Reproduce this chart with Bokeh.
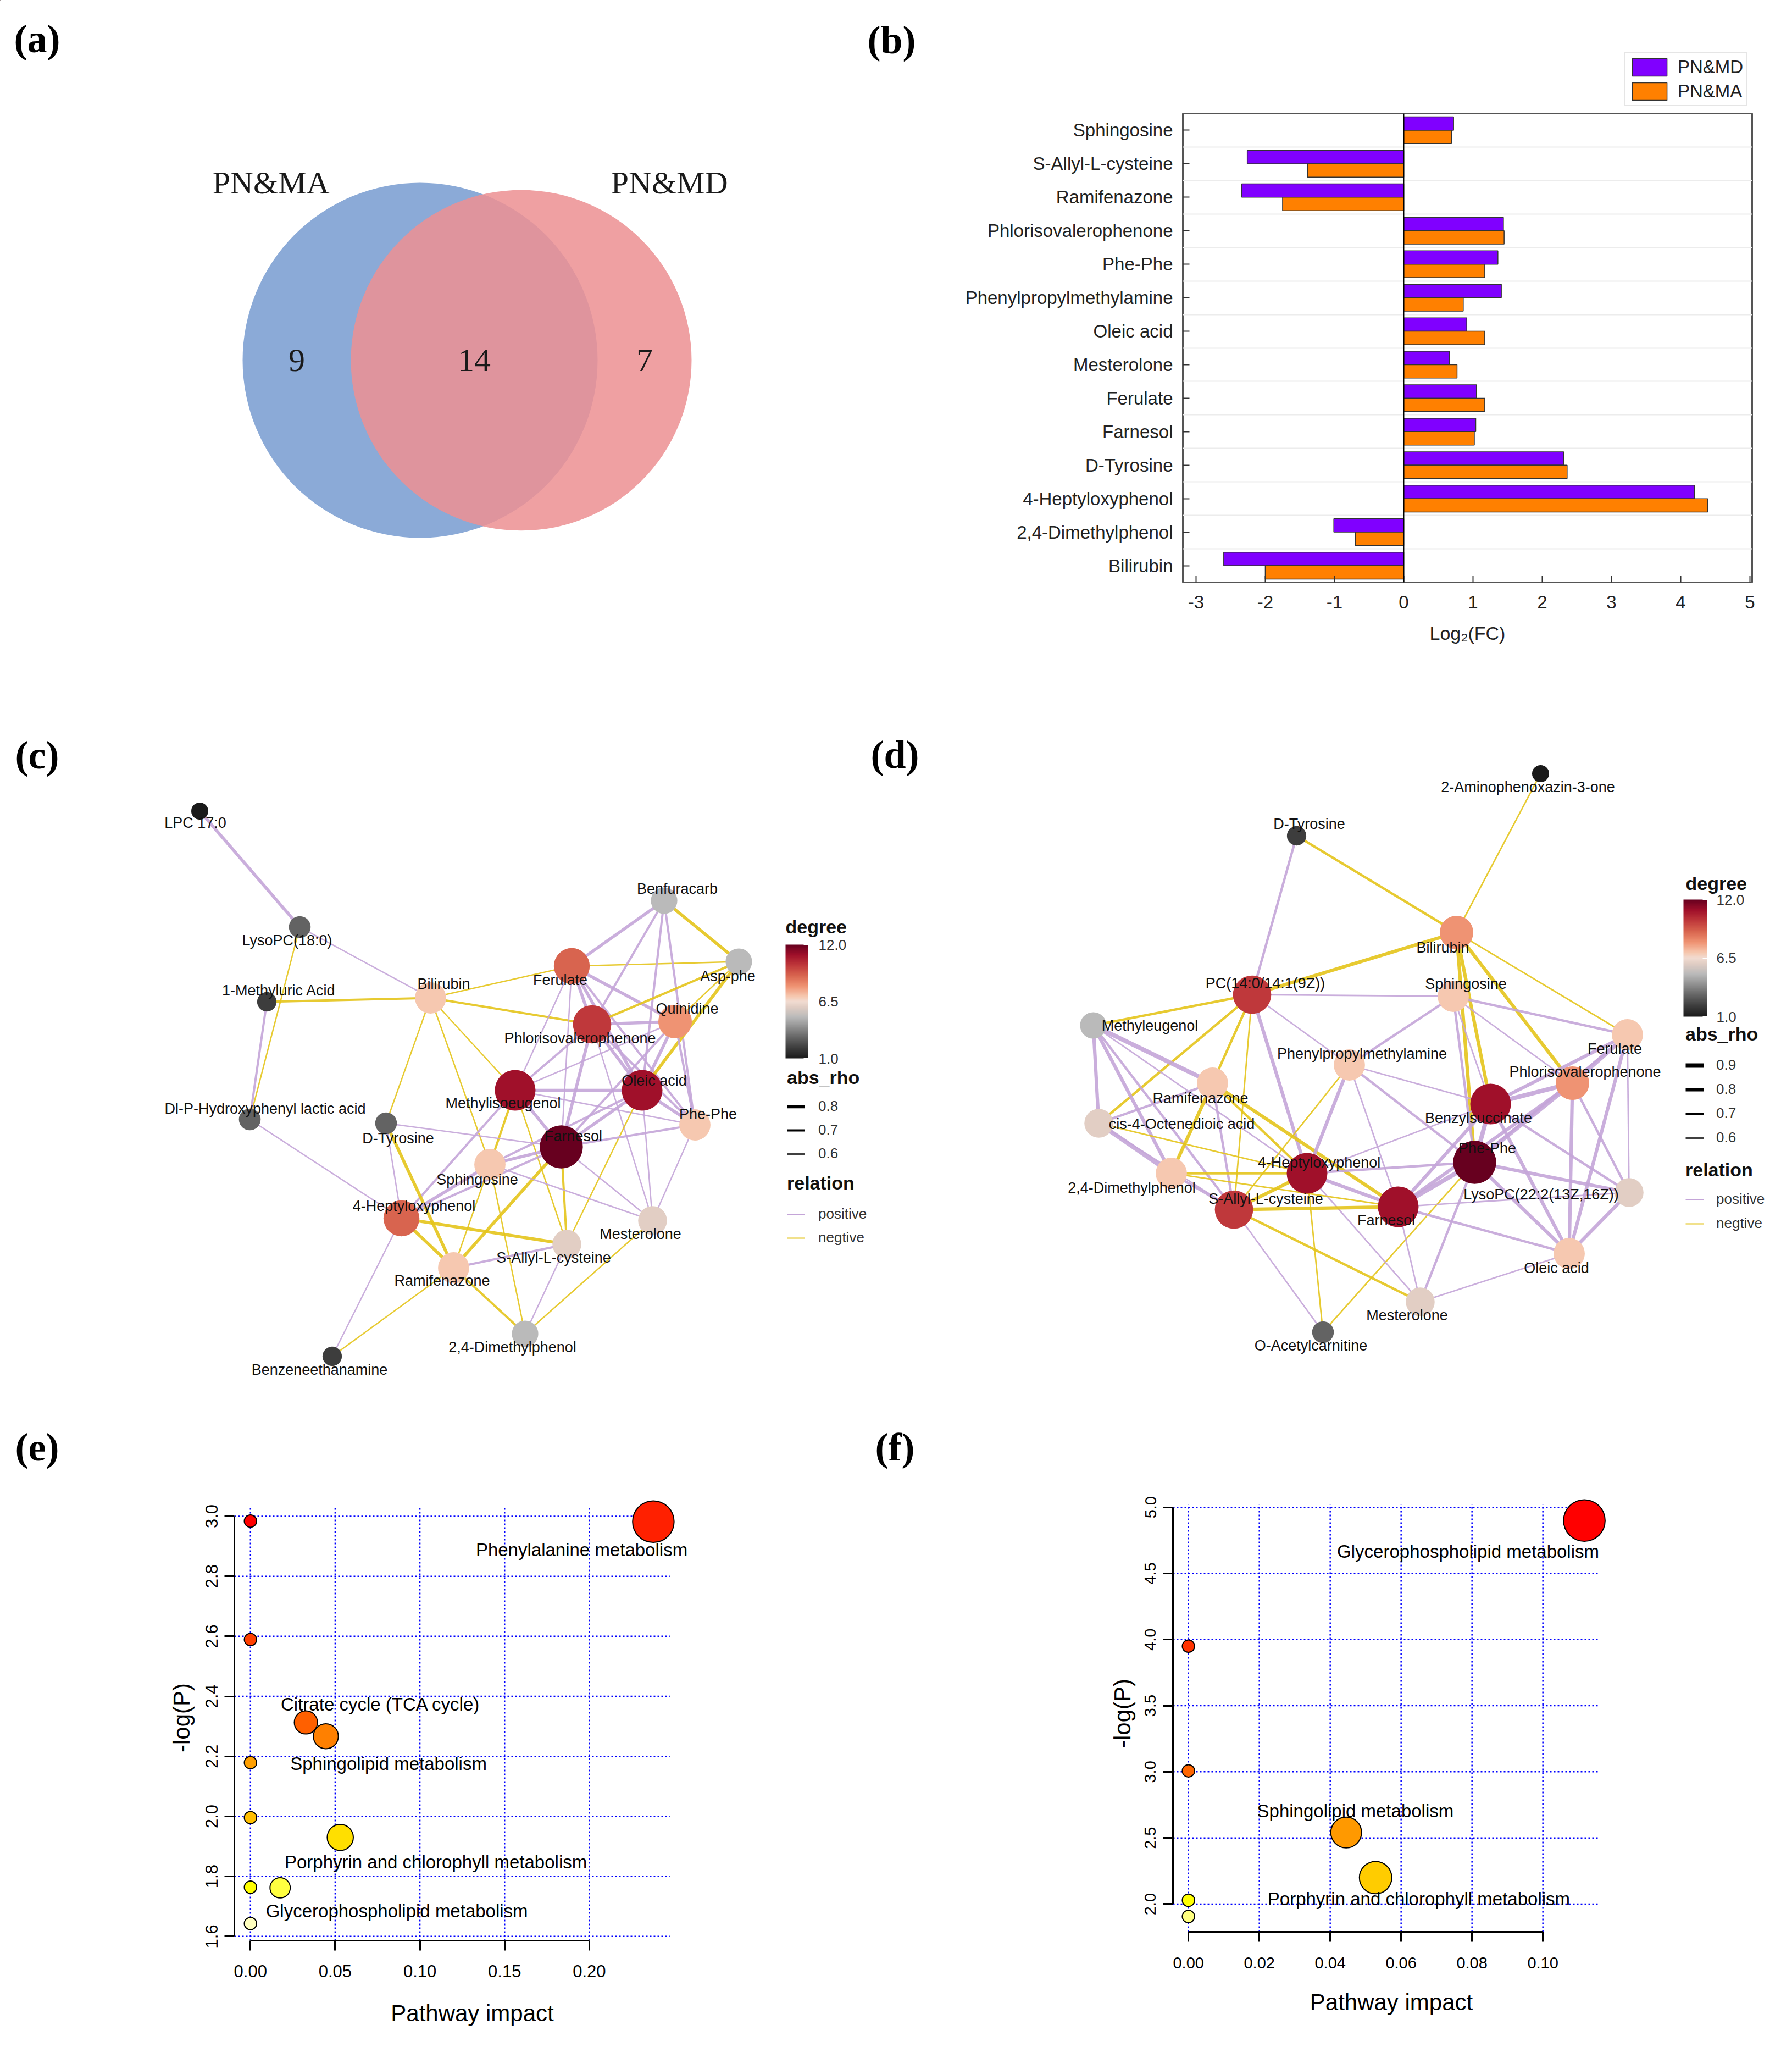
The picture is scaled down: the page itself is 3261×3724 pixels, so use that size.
import math
from bokeh.plotting import figure
from bokeh.models import (Range1d, FactorRange, ColumnDataSource, Label, Legend, LegendItem,
                          ColorBar, LinearColorMapper, FixedTicker, PrintfTickFormatter, Span)
from bokeh.layouts import row, column
from bokeh.embed import file_html
from bokeh.resources import INLINE
from bokeh.core.properties import value
from bokeh.transform import dodge

# ======================= DATA =======================
# (a) Venn diagram
venn_names = ["PN&MA", "PN&MD"]
venn_counts = [9, 14, 7]          # PN&MA only, shared, PN&MD only

# (b) log2 fold change
fc_metabolites = ["Sphingosine", "S-Allyl-L-cysteine", "Ramifenazone", "Phlorisovalerophenone",
                  "Phe-Phe", "Phenylpropylmethylamine", "Oleic acid", "Mesterolone", "Ferulate",
                  "Farnesol", "D-Tyrosine", "4-Heptyloxyphenol", "2,4-Dimethylphenol", "Bilirubin"]
fc_pn_md = [0.72, -2.26, -2.34, 1.44, 1.36, 1.41, 0.91, 0.66, 1.05, 1.04, 2.31, 4.20, -1.01, -2.60]
fc_pn_ma = [0.69, -1.39, -1.75, 1.45, 1.17, 0.86, 1.17, 0.77, 1.17, 1.02, 2.36, 4.39, -0.70, -2.00]
fc_series = ["PN&MD", "PN&MA"]
fc_ticks = [-3, -2, -1, 0, 1, 2, 3, 4, 5]

# (c) correlation network (PN&MA)
net_c_names = ["LPC 17:0", "LysoPC(18:0)", "1-Methyluric Acid", "Dl-P-Hydroxyphenyl lactic acid",
               "Bilirubin", "D-Tyrosine", "Ferulate", "Benfuracarb", "Asp-phe", "Quinidine",
               "Phlorisovalerophenone", "Methylisoeugenol", "Oleic acid", "Phe-Phe", "Farnesol",
               "Sphingosine", "4-Heptyloxyphenol", "Mesterolone", "S-Allyl-L-cysteine",
               "Ramifenazone", "2,4-Dimethylphenol", "Benzeneethanamine"]
net_c_x = [371, 553, 493, 462, 791, 710, 1048, 1216, 1352, 1236, 1085, 945, 1176, 1272, 1029,
           899, 738, 1195, 1039, 833, 963, 612]
net_c_y = [1483, 1694, 1830, 2044, 1823, 2051, 1765, 1646, 1757, 1866, 1871, 1991, 1991, 2054,
           2094, 2126, 2224, 2228, 2271, 2314, 2434, 2475]
net_c_label_x = [363, 530, 515, 490, 815, 732, 1027, 1240, 1332, 1258, 1063, 923, 1198, 1296,
                 1051, 876, 761, 1173, 1015, 812, 940, 589]
net_c_label_y = [1504, 1718, 1809, 2024, 1797, 2078, 1790, 1624, 1783, 1842, 1896, 2014, 1973,
                 2034, 2074, 2153, 2201, 2252, 2295, 2337, 2458, 2499]
net_c_degree = [1, 3, 2, 3, 7, 3, 9, 5, 5, 8, 10, 11, 11, 7, 12, 7, 9, 6, 6, 7, 5, 2]
net_c_edges = [
    ("LPC 17:0", "LysoPC(18:0)", "pos", 0.8),
    ("LysoPC(18:0)", "Bilirubin", "pos", 0.6),
    ("LysoPC(18:0)", "Dl-P-Hydroxyphenyl lactic acid", "neg", 0.6),
    ("1-Methyluric Acid", "Bilirubin", "neg", 0.7),
    ("1-Methyluric Acid", "Dl-P-Hydroxyphenyl lactic acid", "pos", 0.7),
    ("Dl-P-Hydroxyphenyl lactic acid", "4-Heptyloxyphenol", "pos", 0.6),
    ("Bilirubin", "Ferulate", "neg", 0.6),
    ("Bilirubin", "Phlorisovalerophenone", "neg", 0.7),
    ("Bilirubin", "Methylisoeugenol", "neg", 0.6),
    ("Bilirubin", "Sphingosine", "neg", 0.6),
    ("Bilirubin", "D-Tyrosine", "neg", 0.6),
    ("Ferulate", "Asp-phe", "neg", 0.6),
    ("Ferulate", "Benfuracarb", "pos", 0.8),
    ("Ferulate", "Phlorisovalerophenone", "pos", 0.8),
    ("Ferulate", "Quinidine", "pos", 0.8),
    ("Ferulate", "Oleic acid", "pos", 0.8),
    ("Ferulate", "Phe-Phe", "pos", 0.7),
    ("Ferulate", "Methylisoeugenol", "pos", 0.6),
    ("Ferulate", "Farnesol", "pos", 0.6),
    ("Benfuracarb", "Asp-phe", "neg", 0.8),
    ("Benfuracarb", "Phlorisovalerophenone", "pos", 0.7),
    ("Benfuracarb", "Oleic acid", "pos", 0.7),
    ("Benfuracarb", "Phe-Phe", "pos", 0.7),
    ("Asp-phe", "Phlorisovalerophenone", "neg", 0.7),
    ("Asp-phe", "Oleic acid", "neg", 0.8),
    ("Asp-phe", "Quinidine", "neg", 0.6),
    ("Quinidine", "Phlorisovalerophenone", "pos", 0.8),
    ("Quinidine", "Oleic acid", "pos", 0.8),
    ("Quinidine", "Phe-Phe", "pos", 0.7),
    ("Quinidine", "Farnesol", "pos", 0.7),
    ("Quinidine", "Methylisoeugenol", "pos", 0.6),
    ("Phlorisovalerophenone", "Methylisoeugenol", "pos", 0.7),
    ("Phlorisovalerophenone", "Oleic acid", "pos", 0.8),
    ("Phlorisovalerophenone", "Farnesol", "pos", 0.8),
    ("Phlorisovalerophenone", "Mesterolone", "pos", 0.6),
    ("Phlorisovalerophenone", "Phe-Phe", "pos", 0.7),
    ("Methylisoeugenol", "Oleic acid", "pos", 0.8),
    ("Methylisoeugenol", "Farnesol", "pos", 0.8),
    ("Methylisoeugenol", "Phe-Phe", "pos", 0.6),
    ("Methylisoeugenol", "4-Heptyloxyphenol", "pos", 0.7),
    ("Methylisoeugenol", "Sphingosine", "neg", 0.7),
    ("Methylisoeugenol", "S-Allyl-L-cysteine", "neg", 0.6),
    ("Oleic acid", "Farnesol", "pos", 0.8),
    ("Oleic acid", "Phe-Phe", "pos", 0.8),
    ("Oleic acid", "Sphingosine", "pos", 0.7),
    ("Oleic acid", "S-Allyl-L-cysteine", "neg", 0.6),
    ("Oleic acid", "Mesterolone", "pos", 0.6),
    ("Farnesol", "D-Tyrosine", "pos", 0.6),
    ("Farnesol", "Phe-Phe", "pos", 0.7),
    ("Farnesol", "Sphingosine", "pos", 0.8),
    ("Farnesol", "4-Heptyloxyphenol", "pos", 0.7),
    ("Farnesol", "Ramifenazone", "neg", 0.8),
    ("Farnesol", "S-Allyl-L-cysteine", "neg", 0.7),
    ("Farnesol", "Mesterolone", "pos", 0.6),
    ("D-Tyrosine", "4-Heptyloxyphenol", "pos", 0.6),
    ("D-Tyrosine", "Ramifenazone", "neg", 0.8),
    ("Sphingosine", "4-Heptyloxyphenol", "pos", 0.8),
    ("Sphingosine", "Mesterolone", "pos", 0.6),
    ("Sphingosine", "2,4-Dimethylphenol", "neg", 0.6),
    ("Sphingosine", "Ramifenazone", "neg", 0.6),
    ("4-Heptyloxyphenol", "S-Allyl-L-cysteine", "neg", 0.8),
    ("4-Heptyloxyphenol", "Ramifenazone", "neg", 0.8),
    ("4-Heptyloxyphenol", "Benzeneethanamine", "pos", 0.6),
    ("Ramifenazone", "S-Allyl-L-cysteine", "pos", 0.7),
    ("Ramifenazone", "2,4-Dimethylphenol", "neg", 0.7),
    ("Ramifenazone", "Benzeneethanamine", "neg", 0.6),
    ("S-Allyl-L-cysteine", "2,4-Dimethylphenol", "pos", 0.6),
    ("Mesterolone", "2,4-Dimethylphenol", "neg", 0.6),
    ("Phe-Phe", "Mesterolone", "pos", 0.6),
]
net_c_rho_levels = [0.8, 0.7, 0.6]

# (d) correlation network (PN&MD)
net_d_names = ["2-Aminophenoxazin-3-one", "D-Tyrosine", "Bilirubin", "PC(14:0/14:1(9Z))",
               "Sphingosine", "Methyleugenol", "Ferulate", "Phenylpropylmethylamine",
               "Phlorisovalerophenone", "Ramifenazone", "Benzylsuccinate", "cis-4-Octenedioic acid",
               "Phe-Phe", "4-Heptyloxyphenol", "2,4-Dimethylphenol", "LysoPC(22:2(13Z,16Z))",
               "S-Allyl-L-cysteine", "Farnesol", "Oleic acid", "Mesterolone", "O-Acetylcarnitine"]
net_d_x = [2811, 2367, 2658, 2286, 2652, 1997, 2969, 2463, 2869, 2214, 2720, 2007, 2691, 2386,
           2139, 2972, 2253, 2552, 2863, 2592, 2415]
net_d_y = [1415, 1528, 1704, 1817, 1820, 1873, 1890, 1945, 1978, 1978, 2016, 2051, 2122, 2142,
           2142, 2177, 2208, 2203, 2288, 2376, 2431]
net_d_label_x = [2788, 2390, 2633, 2310, 2675, 2100, 2946, 2486, 2892, 2192, 2698, 2158, 2714,
                 2408, 2067, 2812, 2311, 2530, 2840, 2568, 2393]
net_d_label_y = [1439, 1506, 1731, 1796, 1797, 1873, 1915, 1924, 1957, 2005, 2041, 2052, 2096,
                 2122, 2168, 2180, 2188, 2227, 2314, 2400, 2455]
net_d_degree = [1, 2, 8, 10, 7, 5, 7, 7, 8, 7, 11, 6, 12, 11, 7, 6, 10, 11, 7, 6, 3]
net_d_edges = [
    ("2-Aminophenoxazin-3-one", "Bilirubin", "neg", 0.6),
    ("D-Tyrosine", "Bilirubin", "neg", 0.7),
    ("D-Tyrosine", "PC(14:0/14:1(9Z))", "pos", 0.7),
    ("Bilirubin", "PC(14:0/14:1(9Z))", "neg", 0.8),
    ("Bilirubin", "Phe-Phe", "neg", 0.8),
    ("Bilirubin", "Benzylsuccinate", "neg", 0.8),
    ("Bilirubin", "Phlorisovalerophenone", "neg", 0.8),
    ("Bilirubin", "Ferulate", "neg", 0.6),
    ("PC(14:0/14:1(9Z))", "Sphingosine", "pos", 0.6),
    ("PC(14:0/14:1(9Z))", "Methyleugenol", "neg", 0.7),
    ("PC(14:0/14:1(9Z))", "Phenylpropylmethylamine", "pos", 0.6),
    ("PC(14:0/14:1(9Z))", "Ramifenazone", "neg", 0.7),
    ("PC(14:0/14:1(9Z))", "cis-4-Octenedioic acid", "neg", 0.7),
    ("PC(14:0/14:1(9Z))", "S-Allyl-L-cysteine", "neg", 0.6),
    ("PC(14:0/14:1(9Z))", "4-Heptyloxyphenol", "pos", 0.8),
    ("Sphingosine", "Phenylpropylmethylamine", "pos", 0.7),
    ("Sphingosine", "Ferulate", "pos", 0.7),
    ("Sphingosine", "Phe-Phe", "pos", 0.7),
    ("Sphingosine", "Benzylsuccinate", "pos", 0.6),
    ("Sphingosine", "Phlorisovalerophenone", "pos", 0.6),
    ("Methyleugenol", "Ramifenazone", "pos", 0.9),
    ("Methyleugenol", "cis-4-Octenedioic acid", "pos", 0.8),
    ("Methyleugenol", "2,4-Dimethylphenol", "pos", 0.8),
    ("Methyleugenol", "S-Allyl-L-cysteine", "pos", 0.7),
    ("Methyleugenol", "4-Heptyloxyphenol", "pos", 0.6),
    ("Ramifenazone", "cis-4-Octenedioic acid", "pos", 0.7),
    ("Ramifenazone", "2,4-Dimethylphenol", "neg", 0.8),
    ("Ramifenazone", "Farnesol", "neg", 0.8),
    ("Ramifenazone", "4-Heptyloxyphenol", "neg", 0.7),
    ("Ramifenazone", "S-Allyl-L-cysteine", "pos", 0.7),
    ("cis-4-Octenedioic acid", "2,4-Dimethylphenol", "pos", 0.9),
    ("cis-4-Octenedioic acid", "4-Heptyloxyphenol", "neg", 0.6),
    ("cis-4-Octenedioic acid", "S-Allyl-L-cysteine", "pos", 0.6),
    ("Phenylpropylmethylamine", "4-Heptyloxyphenol", "pos", 0.8),
    ("Phenylpropylmethylamine", "S-Allyl-L-cysteine", "neg", 0.6),
    ("Phenylpropylmethylamine", "Farnesol", "pos", 0.6),
    ("Phenylpropylmethylamine", "Benzylsuccinate", "pos", 0.6),
    ("Phenylpropylmethylamine", "Phe-Phe", "pos", 0.7),
    ("Ferulate", "Phlorisovalerophenone", "pos", 0.9),
    ("Ferulate", "Benzylsuccinate", "pos", 0.8),
    ("Ferulate", "Oleic acid", "pos", 0.8),
    ("Ferulate", "LysoPC(22:2(13Z,16Z))", "pos", 0.6),
    ("Ferulate", "Phe-Phe", "pos", 0.7),
    ("Phlorisovalerophenone", "Benzylsuccinate", "pos", 0.9),
    ("Phlorisovalerophenone", "Phe-Phe", "pos", 0.9),
    ("Phlorisovalerophenone", "Oleic acid", "pos", 0.8),
    ("Phlorisovalerophenone", "LysoPC(22:2(13Z,16Z))", "pos", 0.7),
    ("Phlorisovalerophenone", "Farnesol", "pos", 0.8),
    ("Benzylsuccinate", "Phe-Phe", "pos", 0.9),
    ("Benzylsuccinate", "Farnesol", "pos", 0.8),
    ("Benzylsuccinate", "Oleic acid", "pos", 0.8),
    ("Benzylsuccinate", "LysoPC(22:2(13Z,16Z))", "pos", 0.7),
    ("Benzylsuccinate", "4-Heptyloxyphenol", "pos", 0.6),
    ("Phe-Phe", "4-Heptyloxyphenol", "pos", 0.7),
    ("Phe-Phe", "Farnesol", "pos", 0.9),
    ("Phe-Phe", "LysoPC(22:2(13Z,16Z))", "pos", 0.8),
    ("Phe-Phe", "Oleic acid", "pos", 0.8),
    ("Phe-Phe", "Mesterolone", "pos", 0.7),
    ("Phe-Phe", "O-Acetylcarnitine", "neg", 0.6),
    ("4-Heptyloxyphenol", "2,4-Dimethylphenol", "neg", 0.7),
    ("4-Heptyloxyphenol", "S-Allyl-L-cysteine", "neg", 0.8),
    ("4-Heptyloxyphenol", "Farnesol", "pos", 0.8),
    ("4-Heptyloxyphenol", "O-Acetylcarnitine", "neg", 0.6),
    ("4-Heptyloxyphenol", "Mesterolone", "pos", 0.6),
    ("2,4-Dimethylphenol", "S-Allyl-L-cysteine", "pos", 0.7),
    ("2,4-Dimethylphenol", "Farnesol", "neg", 0.6),
    ("S-Allyl-L-cysteine", "Farnesol", "neg", 0.8),
    ("S-Allyl-L-cysteine", "Mesterolone", "neg", 0.7),
    ("S-Allyl-L-cysteine", "O-Acetylcarnitine", "pos", 0.6),
    ("Farnesol", "LysoPC(22:2(13Z,16Z))", "pos", 0.6),
    ("Farnesol", "Oleic acid", "pos", 0.7),
    ("Farnesol", "Mesterolone", "pos", 0.6),
    ("Oleic acid", "Mesterolone", "pos", 0.6),
    ("Oleic acid", "LysoPC(22:2(13Z,16Z))", "pos", 0.8),
]
net_d_rho_levels = [0.9, 0.8, 0.7, 0.6]

# (e) pathway analysis (PN&MA)
path_e_impact = [0.2378, 0.0, 0.0, 0.0327, 0.0445, 0.0, 0.0, 0.0530, 0.0, 0.0175, 0.0]
path_e_logp = [2.982, 2.984, 2.589, 2.313, 2.267, 2.179, 1.996, 1.930, 1.764, 1.762, 1.643]
path_e_names = ["Phenylalanine metabolism", "Citrate cycle (TCA cycle)", "Sphingolipid metabolism",
                "Porphyrin and chlorophyll metabolism", "Glycerophospholipid metabolism"]
path_e_name_x = [0.1955, 0.0768, 0.0815, 0.1094, 0.0864]
path_e_name_y = [2.8875, 2.374, 2.175, 1.847, 1.684]
path_e_xticks = [0.0, 0.05, 0.10, 0.15, 0.20]
path_e_yticks = [1.6, 1.8, 2.0, 2.2, 2.4, 2.6, 2.8, 3.0]

# (f) pathway analysis (PN&MD)
path_f_impact = [0.1117, 0.0, 0.0, 0.0445, 0.0528, 0.0, 0.0]
path_f_logp = [4.90, 3.950, 3.007, 2.541, 2.200, 2.029, 1.906]
path_f_names = ["Glycerophospholipid metabolism", "Sphingolipid  metabolism",
                "Porphyrin and chlorophyll metabolism"]
path_f_name_x = [0.0789, 0.0478, 0.0650]
path_f_name_y = [4.665, 2.704, 2.041]
path_f_xticks = [0.0, 0.02, 0.04, 0.06, 0.08, 0.10]
path_f_yticks = [2.0, 2.5, 3.0, 3.5, 4.0, 4.5, 5.0]

# ======================= STYLE =======================
SANS = "Liberation Sans"
SERIF = "Liberation Serif"
POS_COLOR = "#C4A5D8"
NEG_COLOR = "#E4C41B"
MD_COLOR = "#8000FF"
MA_COLOR = "#FF8000"
degree_stops = [(1, "#1a1a1a"), (2, "#3d3d3d"), (3, "#646464"), (4, "#8f8f8f"), (5, "#bababa"),
                (6, "#e2cec4"), (6.5, "#f1dcd2"), (7, "#f6c8b0"), (8, "#ef9272"), (9, "#d9654f"),
                (10, "#c0393b"), (11, "#a0102a"), (12, "#67001f")]
OFF = -100000  # data location used for legend-only renderers (outside every range)


def hex_rgb(h):
    h = h.lstrip("#")
    return tuple(int(h[i:i + 2], 16) for i in (0, 2, 4))


def build_palette(stops, n=256):
    lo, hi = stops[0][0], stops[-1][0]
    out = []
    for k in range(n):
        v = lo + (hi - lo) * k / (n - 1)
        for (a, ca), (b, cb) in zip(stops[:-1], stops[1:]):
            if a <= v <= b + 1e-9:
                t = (v - a) / (b - a)
                A, B = hex_rgb(ca), hex_rgb(cb)
                out.append("#%02x%02x%02x" % tuple(int(round(A[i] + (B[i] - A[i]) * t)) for i in range(3)))
                break
    return out


DEG_PAL = build_palette(degree_stops)


def heat_colors(n):
    # R's heat.colors(n)
    j = n // 4
    i = n - j
    cols = []
    for k in range(i):
        h = (1.0 / 6.0) * k / (i - 1) if i > 1 else 0.0
        cols.append((255, int(round(255 * 6 * h)), 0))
    for k in range(j):
        s = (1 - 1 / (2 * j)) + ((1 / (2 * j)) - (1 - 1 / (2 * j))) * (k / (j - 1) if j > 1 else 0)
        cols.append((255, 255, int(round(255 * (1 - s)))))
    return ["#%02X%02X%02X" % c for c in cols]


def blank(x0, x1, y0, y1, bottom=0):
    p = figure(width=int(x1 - x0), height=int(y1 - y0) + bottom, x_range=Range1d(x0, x1),
               y_range=Range1d(y1, y0), x_axis_type=None, y_axis_type=None, min_border=0,
               min_border_bottom=bottom, output_backend="svg", toolbar_location=None)
    p.outline_line_color = None
    return p


def panel_label(p, text, x, y):
    p.add_layout(Label(x=x, y=y, text=text, text_font=SERIF, text_font_size="72px",
                       text_font_style="bold", text_align="center", text_baseline="middle",
                       text_color="black"))


# ======================= ROW 1 : top strip (panel letters + legend of b) ===========
strip1 = blank(8, 3253, 8, 214)
panel_label(strip1, "(a)", 75, 78)
panel_label(strip1, "(b)", 1630, 80)
d_md = strip1.hbar(y=[OFF], left=[OFF], right=[OFF + 1], height=1, fill_color=MD_COLOR,
                   line_color="#333333", line_width=1.5)
d_ma = strip1.hbar(y=[OFF], left=[OFF], right=[OFF + 1], height=1, fill_color=MA_COLOR,
                   line_color="#333333", line_width=1.5)
strip1.add_layout(Legend(items=[LegendItem(label=fc_series[0], renderers=[d_md]),
                                LegendItem(label=fc_series[1], renderers=[d_ma])],
                         location=(2955, 13), glyph_width=79, glyph_height=40, label_height=40,
                         label_text_font=SANS, label_text_font_size="33px",
                         label_text_color="#222222", padding=5, spacing=4, margin=0,
                         label_standoff=12, border_line_color="#cccccc", border_line_width=2,
                         background_fill_alpha=1.0))

# ======================= (a) VENN =======================
pa = blank(8, 1570, 214, 1067, bottom=233)
cxA, cyA, rA = 772, 663, 323
cxB, cyB, rB = 956, 663, 310
pa.circle(x=[cxA], y=[cyA], radius=rA, fill_color="#8BAAD7", line_color=None)
pa.circle(x=[cxB], y=[cyB], radius=rB, fill_color="#EC9093", fill_alpha=0.86, line_color=None)
count_x = [((cxA - rA) + (cxB - rB)) / 2, ((cxB - rB) + (cxA + rA)) / 2, ((cxA + rA) + (cxB + rB)) / 2]
pa.text(x=count_x, y=[cyA] * 3, text=[str(c) for c in venn_counts], text_align="center",
        text_baseline="middle", text_font=value(SERIF), text_font_size="60px", text_color="#1a1a1a")
pa.text(x=[cxA - 0.84 * rA, cxB + 0.87 * rB], y=[cyA - rA, cyA - rA], text=venn_names,
        text_align="center", text_baseline="middle", text_font=value(SERIF),
        text_font_size="58px", text_color="#1a1a1a")

# ======================= (b) BARS =======================
pb = figure(width=1683, height=1086, x_range=Range1d(-3.19, 5.032),
            y_range=FactorRange(factors=fc_metabolites[::-1]),
            min_border_left=590, min_border_right=57, min_border_top=0, min_border_bottom=233,
            output_backend="svg", toolbar_location=None)
pb.grid.visible = False
pb.outline_line_color = "#555555"
pb.outline_line_width = 3
src_b = ColumnDataSource(dict(name=fc_metabolites, md=fc_pn_md, ma=fc_pn_ma))
pb.hspan(y=list(range(1, len(fc_metabolites))), line_color="#ececec", line_width=2, level="underlay")
pb.hbar(y=dodge("name", 0.2, range=pb.y_range), left=0, right="md", height=0.4,
        fill_color=MD_COLOR, line_color="#333333", line_width=1.5, source=src_b)
pb.hbar(y=dodge("name", -0.2, range=pb.y_range), left=0, right="ma", height=0.4,
        fill_color=MA_COLOR, line_color="#333333", line_width=1.5, source=src_b)
pb.add_layout(Span(location=0, dimension="height", line_color="black", line_width=2))
pb.xaxis.ticker = FixedTicker(ticks=fc_ticks)
pb.xaxis.formatter = PrintfTickFormatter(format="%d")
pb.axis.major_tick_in = 12
pb.axis.major_tick_out = 0
pb.axis.minor_tick_line_color = None
pb.axis.axis_line_color = None
pb.axis.major_tick_line_color = "#333333"
pb.axis.major_tick_line_width = 2
pb.axis.major_label_text_font = SANS
pb.axis.major_label_text_font_size = "33px"
pb.axis.major_label_text_color = "#222222"
pb.xaxis.major_label_standoff = 24
pb.yaxis.major_label_standoff = 18
pb.xaxis.axis_label = "Log₂(FC)"
pb.xaxis.axis_label_text_font = SANS
pb.xaxis.axis_label_text_font_size = "34px"
pb.xaxis.axis_label_text_font_style = "normal"
pb.xaxis.axis_label_text_color = "#222222"
pb.xaxis.axis_label_standoff = 23


# ======================= NETWORKS =======================
def network_panel(x0, x1, y0, y1, names, xs, ys, degs, lxs, lys, edges, wfun):
    p = blank(x0, x1, y0, y1)
    idx = {n: i for i, n in enumerate(names)}
    e = dict(x0=[], y0=[], x1=[], y1=[], c=[], w=[])
    for a, b, rel, rho in edges:
        i, j = idx[a], idx[b]
        e["x0"].append(xs[i]); e["y0"].append(ys[i])
        e["x1"].append(xs[j]); e["y1"].append(ys[j])
        e["c"].append(POS_COLOR if rel == "pos" else NEG_COLOR)
        e["w"].append(wfun(rho))
    p.segment("x0", "y0", "x1", "y1", line_color="c", line_width="w", line_alpha=0.9,
              source=ColumnDataSource(e))
    mapper = LinearColorMapper(palette=DEG_PAL, low=1, high=12)
    nsrc = ColumnDataSource(dict(x=xs, y=ys, deg=degs, s=[31 + 4.3 * (d - 1) for d in degs],
                                 name=names, lx=lxs, ly=lys))
    p.scatter("x", "y", size="s", fill_color={"field": "deg", "transform": mapper},
              line_color=None, source=nsrc)
    p.text("lx", "ly", text="name", source=nsrc, text_align="center", text_baseline="middle",
           text_font=value(SANS), text_font_size="27px", text_color="#111111")
    return p, mapper


def network_legends(p, mapper, title_xy, cb_loc, cb_w, cb_h, cb_ls, rho_levels, wfun,
                    rho_loc, rel_loc, glyph_w, lab_so, spacing, rho_ts, rel_ts):
    p.add_layout(Label(x=title_xy[0], y=title_xy[1], text="degree", text_font=SANS,
                       text_font_size="34px", text_font_style="bold", text_color="#111111",
                       text_align="left", text_baseline="middle"))
    cb = ColorBar(color_mapper=mapper, location=cb_loc, width=cb_w, height=cb_h, padding=0,
                  margin=0, ticker=FixedTicker(ticks=[1, 6.5, 12]),
                  formatter=PrintfTickFormatter(format="%.1f"), label_standoff=cb_ls,
                  major_label_text_font=SANS, major_label_text_font_size="26px",
                  major_label_text_color="#333333", major_tick_line_color="white",
                  major_tick_in=8, major_tick_out=0, minor_tick_line_color=None,
                  bar_line_color=None, border_line_color=None, background_fill_alpha=0)
    p.add_layout(cb)
    items = []
    for r in rho_levels:
        rr = p.line(x=[OFF, OFF + 1], y=[OFF, OFF], line_color="black", line_width=wfun(r))
        items.append(LegendItem(label="%.1f" % r, renderers=[rr]))
    common = dict(glyph_width=glyph_w, glyph_height=30, label_height=30, label_standoff=lab_so,
                  spacing=spacing, padding=0, margin=0, border_line_color=None,
                  background_fill_alpha=0, label_text_font=SANS, label_text_font_size="26px",
                  label_text_color="#333333", title_text_font=SANS, title_text_font_size="34px",
                  title_text_font_style="bold", title_text_color="#111111")
    p.add_layout(Legend(items=items, location=rho_loc, title="abs_rho", title_standoff=rho_ts, **common))
    rp = p.line(x=[OFF, OFF + 1], y=[OFF, OFF], line_color=POS_COLOR, line_width=2)
    rn = p.line(x=[OFF, OFF + 1], y=[OFF, OFF], line_color=NEG_COLOR, line_width=2)
    p.add_layout(Legend(items=[LegendItem(label="positive", renderers=[rp]),
                               LegendItem(label="negtive", renderers=[rn])],
                        location=rel_loc, title="relation", title_standoff=rel_ts, **common))


def wfun_c(rho):
    return 2.5 + (rho - 0.6) * 16


def wfun_d(rho):
    return 2.7 + (rho - 0.6) * 17.7


pc, map_c = network_panel(8, 1592, 1300, 2590, net_c_names, net_c_x, net_c_y, net_c_degree,
                          net_c_label_x, net_c_label_y, net_c_edges, wfun_c)
network_legends(pc, map_c, (1437, 1693), (1429, 657), 41, 207, 19, net_c_rho_levels, wfun_c,
                (1432, 468), (1432, 315), 33, 24, 12, 17, 21)
panel_label(pc, "(c)", 75, 1381)

pd_, map_d = network_panel(1592, 3253, 1300, 2590, net_d_names, net_d_x, net_d_y, net_d_degree,
                           net_d_label_x, net_d_label_y, net_d_edges, wfun_d)
network_legends(pd_, map_d, (3075, 1614), (1479, 733), 43, 213, 17, net_d_rho_levels, wfun_d,
                (1483, 497), (1483, 341), 34, 22, 13, 21, 18)
panel_label(pd_, "(d)", 1636, 1380)

# ======================= ROW 3 : top strip (panel letters) =======================
strip3 = blank(8, 3253, 2590, 2727)
panel_label(strip3, "(e)", 75, 2640)
panel_label(strip3, "(f)", 1636, 2640)


# ======================= PATHWAY PLOTS =======================
def pathway_panel(width, height, left, right, top, bottom, xr, yr, region, xticks, yticks,
                  xfmt, yfmt, impact, logp, names, nx, ny, tick_px, xt_so, yt_so, xl_so, yl_so):
    p = figure(width=width, height=height, x_range=Range1d(*xr), y_range=Range1d(*yr),
               min_border_left=left, min_border_right=right, min_border_top=top,
               min_border_bottom=bottom, output_backend="svg", toolbar_location=None)
    p.outline_line_color = None
    p.grid.visible = False
    xmin, xmax, ymin, ymax = region
    p.segment(x0=xticks, y0=[ymin] * len(xticks), x1=xticks, y1=[ymax] * len(xticks),
              line_color="#0000FF", line_width=2.5, line_dash="3 4", level="underlay")
    p.segment(x0=[xmin] * len(yticks), y0=yticks, x1=[xmax] * len(yticks), y1=yticks,
              line_color="#0000FF", line_width=2.5, line_dash="3 4", level="underlay")
    n = len(logp)
    heat = heat_colors(n)
    order = sorted(range(n), key=lambda i: -logp[i])
    colors = [None] * n
    for rank, i in enumerate(order):
        colors[i] = heat[rank]
    mx = max(impact)
    sizes = [22.5 + 53 * math.sqrt(v / mx) for v in impact]
    src = ColumnDataSource(dict(x=impact, y=logp, c=colors, s=sizes))
    p.scatter("x", "y", size="s", fill_color="c", line_color="black", line_width=2, source=src)
    p.text(x=nx, y=ny, text=names, text_align="center", text_baseline="middle",
           text_font=value(SANS), text_font_size="33px", text_color="black")
    p.xaxis.ticker = FixedTicker(ticks=xticks)
    p.yaxis.ticker = FixedTicker(ticks=yticks)
    p.xaxis.formatter = PrintfTickFormatter(format=xfmt)
    p.yaxis.formatter = PrintfTickFormatter(format=yfmt)
    p.xaxis.bounds = (xticks[0], xticks[-1])
    p.yaxis.bounds = (yticks[0], yticks[-1])
    p.yaxis.major_label_orientation = "vertical"
    p.axis.minor_tick_line_color = None
    p.axis.major_tick_in = 0
    p.axis.major_tick_out = 18
    p.axis.axis_line_width = 3
    p.axis.axis_line_color = "black"
    p.axis.major_tick_line_width = 3
    p.axis.major_tick_line_color = "black"
    p.axis.major_label_text_font = SANS
    p.axis.major_label_text_font_size = tick_px
    p.axis.major_label_text_color = "black"
    p.xaxis.major_label_standoff = xt_so
    p.yaxis.major_label_standoff = yt_so
    p.xaxis.axis_label = "Pathway impact"
    p.yaxis.axis_label = "-log(P)"
    p.axis.axis_label_text_font = SANS
    p.axis.axis_label_text_font_size = "42px"
    p.axis.axis_label_text_font_style = "normal"
    p.axis.axis_label_text_color = "black"
    p.xaxis.axis_label_standoff = xl_so
    p.yaxis.axis_label_standoff = yl_so
    return p


pe = pathway_panel(1562, 989, 426, 270, 0, 178, (-0.0095, 0.2714), (1.586, 3.0713),
                   (-0.0095, 0.2475, 1.586, 3.034), path_e_xticks, path_e_yticks, "%.2f", "%.1f",
                   path_e_impact, path_e_logp, path_e_names, path_e_name_x, path_e_name_y,
                   "31px", 26, 12, 39, 18)

pf = pathway_panel(1683, 989, 572, 316, 0, 194, (-0.00437, 0.11889), (1.79, 5.0942),
                   (-0.00437, 0.1157, 1.79, 5.02), path_f_xticks, path_f_yticks, "%.2f", "%.1f",
                   path_f_impact, path_f_logp, path_f_names, path_f_name_x, path_f_name_y,
                   "29px", 28, 13, 35, 15)

layout = column(
    strip1,
    row(column(pa), column(pb)),
    row(column(pc), column(pd_)),
    strip3,
    row(column(pe), column(pf)),
)
open("out.html", "w").write(file_html(layout, INLINE))
